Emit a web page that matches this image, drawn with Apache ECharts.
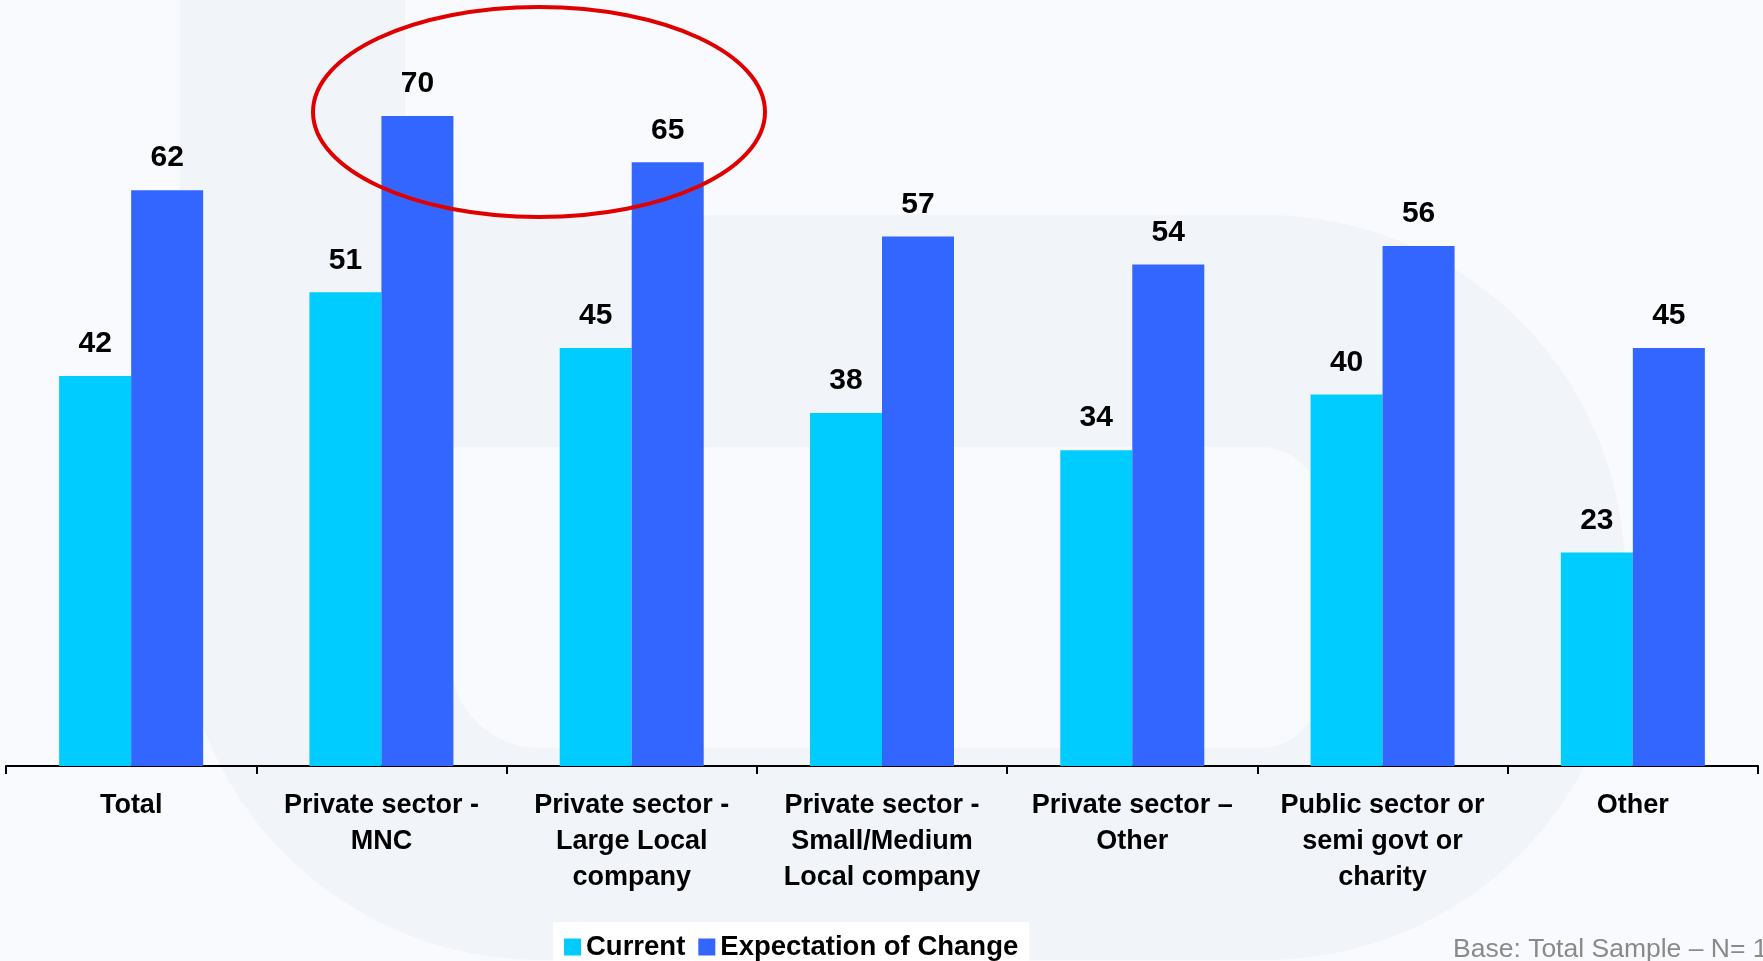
<!DOCTYPE html>
<html>
<head>
<meta charset="utf-8">
<title>Current vs Expectation of Change by Sector</title>
<script src="https://cdn.jsdelivr.net/npm/echarts@6/dist/echarts.min.js"></script>
<style>
  html, body { margin: 0; padding: 0; background: #f9fafd; }
  #chart { width: 1763px; height: 961px; }
</style>
</head>
<body>
<div id="chart"></div>
<script>
// Sector categories (line breaks as shown under the axis)
const categories = [
  'Total',
  'Private sector -\nMNC',
  'Private sector -\nLarge Local\ncompany',
  'Private sector -\nSmall/Medium\nLocal company',
  'Private sector \u2013\nOther',
  'Public sector or\nsemi govt or\ncharity',
  'Other'
];

// Percentages per sector
const currentValues = [42, 51, 45, 38, 34, 40, 23];
const expectationValues = [62, 70, 65, 57, 54, 56, 45];

const seriesNames = ['Current', 'Expectation of Change'];
const baseNote = 'Base: Total Sample \u2013 N= 1';

const FONT = '"Liberation Sans", Arial, sans-serif';
const BG = '#f9fafd';
const SHADE = '#f1f4f9';

const chart = echarts.init(document.getElementById('chart'), null, { renderer: 'canvas' });

const valueLabel = {
  show: true,
  position: 'top',
  distance: 17,
  fontFamily: FONT,
  fontSize: 30,
  fontWeight: 'bold',
  color: '#000'
};

chart.setOption({
  backgroundColor: BG,
  animation: false,
  grid: { left: 6, right: 5, top: 23, bottom: 195 },
  legend: {
    left: 553,
    top: 922,
    orient: 'horizontal',
    padding: [11, 11, 11, 11],
    backgroundColor: '#ffffff',
    itemWidth: 17,
    itemHeight: 17,
    itemGap: 13,
    icon: 'rect',
    selectedMode: false,
    data: seriesNames,
    textStyle: { fontFamily: FONT, fontSize: 27.5, fontWeight: 'bold', color: '#000' }
  },
  xAxis: {
    type: 'category',
    data: categories,
    boundaryGap: true,
    axisLine: { show: true, lineStyle: { color: '#000', width: 2 } },
    axisTick: { show: true, alignWithLabel: false, length: 8, lineStyle: { color: '#000', width: 2 } },
    splitLine: { show: false },
    axisLabel: {
      interval: 0,
      margin: 22,
      fontFamily: FONT,
      fontSize: 27,
      fontWeight: 'bold',
      lineHeight: 36,
      color: '#000',
      align: 'center'
    }
  },
  yAxis: {
    type: 'value',
    min: 0,
    max: 80,
    show: false,
    splitLine: { show: false }
  },
  series: [
    {
      name: seriesNames[0],
      type: 'bar',
      data: currentValues,
      barWidth: 72,
      barGap: '0%',
      itemStyle: { color: '#00ccff' },
      label: valueLabel
    },
    {
      name: seriesNames[1],
      type: 'bar',
      data: expectationValues,
      barWidth: 72,
      barGap: '0%',
      itemStyle: { color: '#3366ff' },
      label: valueLabel
    }
  ],
  graphic: [
    // faint backdrop logo: stem + bowl with a lighter counter
    {
      type: 'rect', z: -10, silent: true,
      shape: { x: 180, y: 0, width: 225, height: 320 },
      style: { fill: SHADE }
    },
    {
      type: 'rect', z: -10, silent: true,
      shape: { x: 180, y: 215, width: 1445, height: 745, r: [0, 360, 360, 360] },
      style: { fill: SHADE }
    },
    {
      type: 'rect', z: -9, silent: true,
      shape: { x: 450, y: 447, width: 870, height: 301, r: [0, 60, 60, 90] },
      style: { fill: BG }
    },
    // highlight ring around the two private-sector peaks
    {
      type: 'ellipse', z: 100, silent: true,
      shape: { cx: 539, cy: 112, rx: 226, ry: 105 },
      style: { fill: 'none', stroke: '#e00000', lineWidth: 4 }
    },
    {
      type: 'text', z: 100, silent: true,
      left: 1453, top: 936,
      style: { text: baseNote, fontFamily: FONT, fontSize: 26.5, fill: '#8a8a8a' }
    }
  ]
});
</script>
</body>
</html>
